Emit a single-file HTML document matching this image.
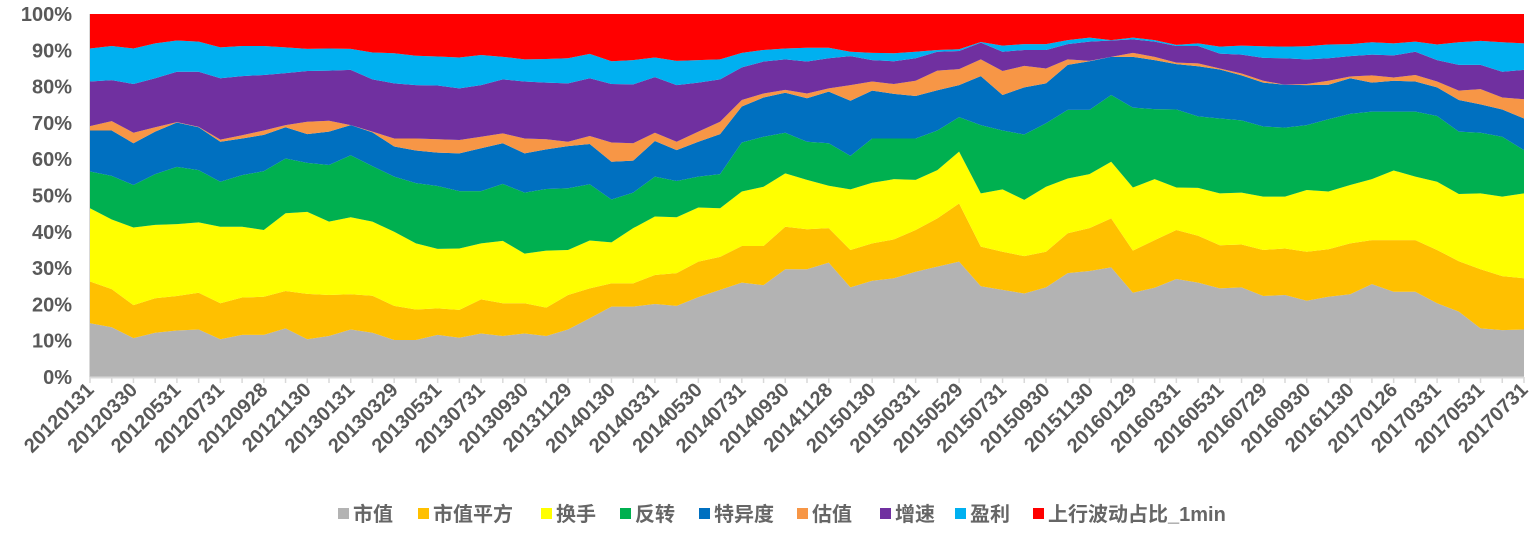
<!DOCTYPE html>
<html><head><meta charset="utf-8">
<style>
html,body{margin:0;padding:0;background:#fff;}
svg{display:block;}
text{font-family:"Liberation Sans","Noto Sans CJK SC",sans-serif;}
</style></head>
<body>
<svg id="chart" width="1539" height="534" viewBox="0 0 1539 534" xmlns="http://www.w3.org/2000/svg">
<g id="areas"></g>
<g id="axes"></g>
<g id="legend"></g>
</svg>
<script>
const categories = ["20120131","20120229","20120330","20120427","20120531","20120629","20120731","20120831","20120928","20121031","20121130","20121231","20130131","20130228","20130329","20130426","20130531","20130628","20130731","20130830","20130930","20131031","20131129","20131231","20140130","20140228","20140331","20140430","20140530","20140630","20140731","20140829","20140930","20141031","20141128","20141231","20150130","20150227","20150331","20150430","20150529","20150630","20150731","20150831","20150930","20151030","20151130","20151231","20160129","20160229","20160331","20160429","20160531","20160630","20160729","20160831","20160930","20161031","20161130","20161230","20170126","20170228","20170331","20170428","20170531","20170630","20170731"];
const seriesNames = ["市值","市值平方","换手","反转","特异度","估值","增速","盈利","上行波动占比_1min"];
const seriesColors = ["#b3b3b3","#ffc000","#ffff00","#00b050","#0070c0","#f79646","#7030a0","#00b0f0","#ff0000"];
const yTicks = [0,10,20,30,40,50,60,70,80,90,100];
const sMarketCap = [14.8,13.7,10.7,12.2,12.8,13.1,10.4,11.6,11.6,13.4,10.4,11.3,13.1,12.2,10.2,10.2,11.6,10.8,12.0,11.3,12.0,11.3,13.1,16.2,19.4,19.4,20.1,19.6,22.0,24.0,26.0,25.3,29.7,29.7,31.5,24.7,26.5,27.2,29.0,30.4,31.8,25.0,24.0,23.0,24.7,28.6,29.2,30.2,23.2,24.6,27.0,26.0,24.4,24.7,22.3,22.6,21.0,22.1,22.8,25.6,23.5,23.5,20.3,18.0,13.4,12.9,13.1];
const sMarketCapSq = [11.5,10.5,9.1,9.5,9.5,10.1,9.9,10.3,10.5,10.3,12.5,11.3,9.7,10.2,9.4,8.4,7.3,7.7,9.4,9.0,8.3,7.8,9.5,8.2,6.4,6.4,8.0,9.0,9.8,9.1,10.1,10.8,11.7,11.0,9.5,10.3,10.3,10.7,11.5,13.3,16.0,10.9,10.5,10.3,9.8,11.0,11.8,13.5,11.6,13.1,13.5,12.9,11.9,11.8,12.7,12.8,13.5,13.1,14.0,12.1,14.2,14.2,14.7,13.9,16.3,14.9,14.1];
const sTurnover = [20.2,19.2,21.4,20.2,19.8,19.4,21.1,19.5,18.4,21.4,22.6,20.2,21.2,20.4,20.4,18.2,16.4,16.9,15.4,17.2,13.7,15.7,12.4,13.2,11.3,15.2,16.1,15.4,14.9,13.4,15.0,16.3,14.7,13.6,11.7,16.7,16.7,16.6,13.8,13.3,14.3,14.7,17.2,15.5,17.9,15.1,14.9,15.6,17.4,16.8,11.7,13.2,14.3,14.3,14.7,14.3,17.0,15.9,16.1,16.8,19.2,17.5,18.8,18.5,20.9,21.9,23.4];
const sReversal = [10.1,12.0,11.7,14.0,15.8,14.4,12.4,14.2,16.2,15.1,13.5,15.6,17.1,15.3,15.2,16.6,17.3,15.8,14.4,15.7,16.8,17.0,17.0,15.5,11.8,9.8,11.0,10.0,8.5,9.4,13.5,13.8,11.2,10.5,11.7,9.2,12.2,11.2,11.4,10.9,9.5,18.8,16.2,18.0,17.5,18.9,17.7,18.4,22.0,19.3,21.5,19.7,20.6,19.9,19.3,19.0,17.9,19.9,19.6,18.6,16.2,17.9,18.1,17.2,16.7,16.5,11.9];
const sIdio = [11.3,12.5,11.5,11.7,12.2,11.8,11.0,10.1,10.0,8.6,7.9,9.2,8.3,9.3,8.3,9.0,9.2,10.4,11.8,11.2,10.8,10.9,11.6,11.1,10.4,8.8,9.8,8.5,9.6,11.0,9.9,10.8,11.0,12.0,14.2,15.2,13.2,12.3,11.7,11.1,8.8,13.5,9.8,13.0,11.0,12.4,13.4,10.5,14.0,13.5,12.5,13.8,13.5,12.4,12.1,11.8,11.0,9.5,9.8,8.0,8.5,8.3,7.9,8.7,7.8,7.5,8.7];
const sValuation = [1.2,2.6,2.9,1.2,0.1,0.1,0.6,0.9,1.2,0.6,3.4,3.0,0.0,0.2,2.2,3.3,3.7,3.7,3.2,2.7,4.1,2.8,1.2,2.2,5.3,4.8,2.3,2.3,2.8,3.4,1.8,1.1,0.8,1.3,0.9,4.3,2.5,2.7,4.2,5.4,4.4,4.6,6.6,5.9,4.1,1.5,0.1,0.0,1.1,0.9,0.4,0.8,0.3,0.5,0.5,0.0,0.3,1.1,0.5,2.0,0.9,1.8,1.6,2.6,4.2,3.3,5.3];
const sGrowth = [12.3,11.3,13.4,13.5,13.9,15.2,16.9,16.3,15.3,14.3,14.0,13.8,15.2,14.4,15.2,14.7,14.8,14.2,14.2,14.9,15.7,15.6,16.1,15.9,16.1,16.2,15.3,15.6,13.5,11.7,9.0,8.8,8.4,8.8,8.3,8.0,5.9,6.3,6.2,5.2,5.0,4.6,5.3,4.4,5.1,4.2,5.3,4.5,3.7,4.2,4.6,4.8,4.1,5.2,6.3,7.3,6.8,6.2,5.6,5.7,6.1,6.4,5.9,7.1,6.7,7.1,8.1];
const sProfit = [9.1,9.4,9.8,9.6,8.6,8.3,8.5,8.3,8.0,7.1,6.1,6.1,5.8,7.4,8.3,8.1,8.0,8.5,8.3,6.2,6.1,6.5,6.9,6.7,6.3,6.7,5.4,6.7,6.2,5.5,4.0,3.2,3.0,3.8,2.9,1.2,2.0,2.2,1.8,0.5,0.5,0.2,1.7,1.6,1.6,1.1,1.1,0.1,0.5,0.4,0.3,0.7,1.9,2.5,3.2,3.2,3.6,3.8,3.3,3.4,3.3,2.8,4.3,6.2,6.6,8.1,7.3];
const sUpVol = [9.5,8.8,9.5,8.1,7.3,7.6,9.2,8.8,8.8,9.2,9.6,9.5,9.6,10.6,10.8,11.5,11.7,12.0,11.3,11.8,12.5,12.4,12.2,11.0,13.0,12.7,12.0,12.9,12.7,12.5,10.7,9.9,9.5,9.3,9.3,10.4,10.7,10.8,10.4,9.9,9.7,7.7,8.7,8.3,8.3,7.2,6.5,7.2,6.5,7.2,8.5,8.1,9.0,8.7,8.9,9.0,8.9,8.4,8.3,7.8,8.1,7.6,8.4,7.8,7.4,7.8,8.1];
const seriesData = [sMarketCap,sMarketCapSq,sTurnover,sReversal,sIdio,sValuation,sGrowth,sProfit,sUpVol];

const NS = "http://www.w3.org/2000/svg";
const PL = 90, PR = 1524, PT = 14, PB = 377;
function xScale(i){ return PL + i * (PR - PL) / (categories.length - 1); }
function yScale(p){ return PB - p / 100 * (PB - PT); }
function mk(tag, attrs, parent){ const e = document.createElementNS(NS, tag); for (const k in attrs) e.setAttribute(k, attrs[k]); parent.appendChild(e); return e; }

const areas = document.getElementById('areas');
const n = categories.length;
const base = new Array(n).fill(0);
seriesData.forEach((vals, s) => {
  const tot = [];
  for (let i = 0; i < n; i++) {
    let sum = 0; seriesData.forEach(a => sum += a[i]);
    tot.push(sum);
  }
  const lower = base.slice();
  const upper = lower.map((b, i) => b + vals[i] / tot[i] * 100);
  let d = "";
  for (let i = 0; i < n; i++) d += (i ? "L" : "M") + xScale(i).toFixed(2) + "," + yScale(upper[i]).toFixed(2);
  for (let i = n - 1; i >= 0; i--) d += "L" + xScale(i).toFixed(2) + "," + yScale(lower[i]).toFixed(2);
  d += "Z";
  const p = mk('path', {d: d, fill: seriesColors[s]}, areas);
  
  
  for (let i = 0; i < n; i++) base[i] = upper[i];
});

const axes = document.getElementById('axes');
const ax = mk('line', {x1: PL, y1: PB + 0.5, x2: PR, y2: PB + 0.5, stroke: "#d9d9d9", "stroke-width": 2}, axes);


const ay = mk('line', {x1: PL - 0.5, y1: PT, x2: PL - 0.5, y2: PB, stroke: "#d9d9d9", "stroke-width": 1}, axes);


yTicks.forEach(t => {
  const tx = mk('text', {x: 72, y: yScale(t) + 7, "text-anchor": "end", "font-size": 20, "font-weight": "bold", fill: "#595959"}, axes);
  tx.textContent = t + "%";
  
  
});
for (let i = 0; i < n; i++) {
  const tk = mk('line', {x1: xScale(i), y1: PB, x2: xScale(i), y2: PB + 6, stroke: "#d9d9d9", "stroke-width": 1.5}, axes);
  
  
  if (i % 2 === 0) {
    const x = xScale(i) + 5, y = PB + 14;
    const tx = mk('text', {x: x, y: y, "text-anchor": "end", "font-size": 20, "font-weight": "bold", fill: "#595959", transform: "rotate(-45 " + x + " " + y + ")"}, axes);
    tx.textContent = categories[i];
    
    
  }
}

const legend = document.getElementById('legend');
const legendX = [338, 418, 541, 620, 699, 797, 880, 955, 1033];
seriesNames.forEach((name, s) => {
  const g = mk('g', {}, legend);
  
  
  mk('rect', {x: legendX[s], y: 508, width: 11, height: 11, fill: seriesColors[s]}, g);
  const t = mk('text', {x: legendX[s] + 15, y: 521, "font-size": 20, "font-weight": "bold", fill: "#666666"}, g);
  t.textContent = name;
});
</script>
</body></html>
